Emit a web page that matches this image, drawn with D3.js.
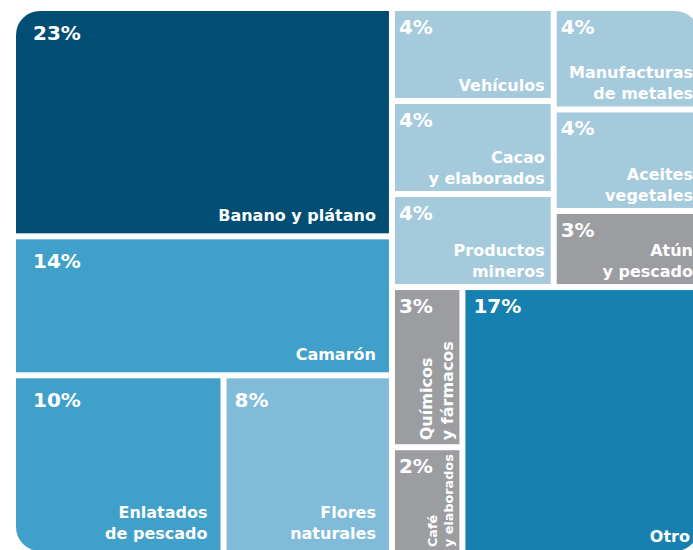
<!DOCTYPE html>
<html>
<head>
<meta charset="utf-8">
<script src="https://cdn.jsdelivr.net/npm/d3@7"></script>
<style>
    body { margin: 0; background: #fff; }
    svg { display: block; font-family: "DejaVu Sans", sans-serif; font-weight: 700; }
</style>
</head>
<body>
<div id="chart"></div>
<script>
// --------- DATA ---------

const categories = [
    "Banano y plátano", "Camarón", "Enlatados\nde pescado", "Flores\nnaturales",
    "Vehículos", "Cacao\ny elaborados", "Productos\nmineros",
    "Manufacturas\nde metales", "Aceites\nvegetales", "Atún\ny pescado",
    "Químicos\ny fármacos", "Café\ny elaborados", "Otro"
];
const shares = [23, 14, 10, 8, 4, 4, 4, 4, 4, 3, 3, 2, 17];
// nesting of the blocks (left / right, top / bottom, columns)
const groups = [
    "L", "L", "L/b", "L/b",
    "R/t/1", "R/t/1", "R/t/1",
    "R/t/2", "R/t/2", "R/t/2",
    "R/b/1", "R/b/1", "R/b"
];

// colours per category
const tones = ["dark", "mid", "mid", "soft", "light", "light", "light",
               "light", "light", "grey", "grey", "grey", "deep"];
const palette = {
    dark: "#004e74", mid: "#40a0ca", soft: "#80bcda",
    light: "#a4cadc", grey: "#9c9da1", deep: "#1680b0"
};

// --------- GRAPHING ---------

const width = 693, height = 550;
const box = {left: 16, top: 11, right: 699, bottom: 551};

function buildTree() {
    let root = {name: "root", children: []};
    categories.forEach((c, i) => {
        let node = root;
        groups[i].split("/").forEach(key => {
            let next = node.children.find(d => d.name === key);
            if (!next) {
                next = {name: key, children: []};
                node.children.push(next);
            }
            node = next;
        });
        node.children.push({name: c, value: shares[i], tone: tones[i], side: groups[i][0]});
    });
    return root;
}

let root = d3.hierarchy(buildTree()).sum(d => d.value || 0);

d3.treemap()
    .tile(d3.treemapSliceDice)
    .size([box.right - box.left, box.bottom - box.top])
    .paddingInner(6)(root);

let svg = d3.select("#chart")
    .append("svg")
    .attr("width", width)
    .attr("height", height);

svg.append("clipPath")
    .attr("id", "frame")
    .append("rect")
    .attr("width", box.right - box.left)
    .attr("height", box.bottom - box.top)
    .attr("rx", 24);

let graph = svg.append("g")
    .attr("transform", "translate(" + box.left + "," + box.top + ")")
    .attr("clip-path", "url(#frame)");

let cells = graph.selectAll("g.cell")
    .data(root.leaves())
    .join("g")
    .attr("class", "cell");

cells.append("rect")
    .attr("x", d => d.x0)
    .attr("y", d => d.y0)
    .attr("width", d => d.x1 - d.x0)
    .attr("height", d => d.y1 - d.y0)
    .attr("fill", d => palette[d.data.tone]);

// Percent labels
cells.append("text")
    .attr("x", d => d.x0 + (d.x0 === 0 ? 17 : d.data.value >= 8 ? 8 : 4))
    .attr("y", d => d.y0 + (d.data.side === "L" ? 29 : 23))
    .attr("fill", "#fff")
    .attr("font-size", 20)
    .text(d => d.data.value + "%");

// Name labels
const lineH = 21;
cells.each(function(d) {
    let lines = d.data.name.split("\n");
    let w = d.x1 - d.x0, h = d.y1 - d.y0;
    let label = d3.select(this).append("text")
        .attr("fill", "#fff")
        .attr("font-size", 16);

    if (w < 80 && h > w * 1.5) {
        // narrow cells: vertical text reading upwards
        label.attr("transform", "translate(" + (d.x1 - 6) + "," + (d.y1 - 4) + ") rotate(-90)");
        lines.forEach((t, i) => {
            label.append("tspan")
                .attr("x", 0)
                .attr("y", -(lines.length - 1 - i) * lineH)
                .text(t);
        });
        // shrink if it runs out of the cell
        let len = d3.max(label.selectAll("tspan").nodes(), n => n.getComputedTextLength());
        let room = h - 8;
        if (len > room) {
            let fs = 16 * room / len;
            label.attr("font-size", fs);
            label.selectAll("tspan")
                .attr("y", (t, i) => -(lines.length - 1 - i) * lineH * fs / 16);
        }
    } else {
        let padR = d.data.side === "L" ? 13 : d.data.value >= 8 ? 9 : 6;
        let padB = d.data.side === "L" ? 12 : d.data.value >= 8 ? 9 : 7;
        label.attr("text-anchor", "end");
        lines.forEach((t, i) => {
            label.append("tspan")
                .attr("x", d.x1 - padR)
                .attr("y", d.y1 - padB - (lines.length - 1 - i) * lineH)
                .text(t);
        });
    }
});
</script>
</body>
</html>
